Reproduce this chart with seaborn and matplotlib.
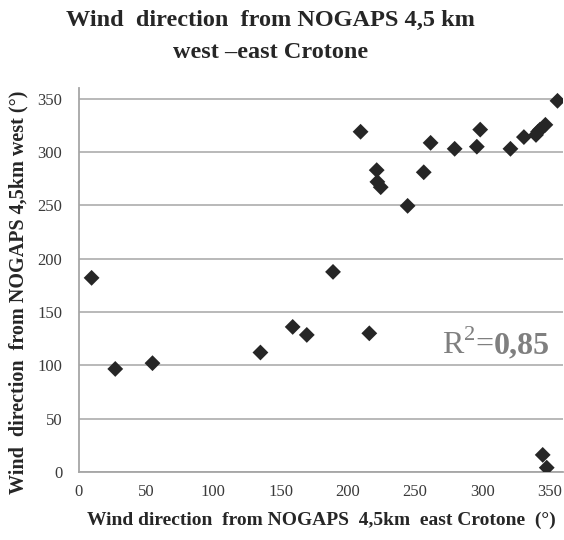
"""
Scatter of wind direction, NOGAPS 4,5 km west vs east Crotone.
"""
import matplotlib
matplotlib.use("Agg")
import matplotlib.pyplot as plt
import numpy as np
import pandas as pd
import seaborn as sns

# wind direction east Crotone (deg)
east_dir = [9.4, 27, 54.7, 135, 159, 169.5, 189, 216, 209.5, 221.5, 222, 224.5,
            244.5, 256.5, 261.6, 279.5, 296, 298.5, 321, 331, 340, 341.5, 343,
            347, 356, 345, 348]
# wind direction west (deg)
west_dir = [182, 96.6, 102, 112, 136, 128.5, 187.6, 130, 319, 283, 272, 267,
            249.5, 281, 308.6, 303, 305, 321, 303, 314, 316, 319, 321,
            325.5, 348, 16, 4]

x_ticks = [0, 50, 100, 150, 200, 250, 300, 350]
y_ticks = [0, 50, 100, 150, 200, 250, 300, 350]

df = pd.DataFrame({"east": east_dir, "west": west_dir})

sns.set_style("white")
plt.rcParams["font.family"] = ["Liberation Serif", "DejaVu Serif"]

fig = plt.figure(figsize=(5.64, 5.40), dpi=100)
ax = fig.add_axes([0.140, 0.126, 0.858, 0.711])

sns.scatterplot(data=df, x="east", y="west", marker="D", s=65,
                color="#262626", edgecolor="none", ax=ax, zorder=3)

ax.set_xlim(0, 360)
ax.set_ylim(0, 360)
ax.set_xticks(x_ticks)
ax.set_yticks(y_ticks)
ax.tick_params(axis="both", length=0, labelsize=12, labelcolor="#3a3a3a")
ax.tick_params(axis="y", pad=12)
ax.tick_params(axis="x", pad=9)
ax.yaxis.grid(True, color="#b3b3b3", linewidth=1.3)
ax.xaxis.grid(False)
for side in ["top", "right"]:
    ax.spines[side].set_visible(False)
for side in ["left", "bottom"]:
    ax.spines[side].set_color("#a6a6a6")
    ax.spines[side].set_linewidth(1.3)

ax.set_xlabel("Wind direction  from NOGAPS  4,5km  east Crotone  (°)",
              fontsize=14, fontweight="bold")
ax.set_ylabel("Wind  direction  from NOGAPS 4,5km west (°)",
              fontsize=14.5, fontweight="bold")
ax.xaxis.set_label_coords(0.5, -0.104)
ax.yaxis.set_label_coords(-0.105, 0.469)

fig.text(0.479, 0.962, "Wind  direction  from NOGAPS 4,5 km",
         ha="center", va="center", fontsize=17.5, fontweight="bold")
fig.text(0.479, 0.903, "west \u2013east Crotone",
         ha="center", va="center", fontsize=17.5, fontweight="bold")

r_txt = ax.text(270, 111, "R$^{\\mathregular{2}}$=", fontsize=23, color="#7f7f7f",
                va="baseline", ha="left")
ax.annotate("0,85", xy=(1, 0), xycoords=r_txt, fontsize=23, color="#7f7f7f",
            fontweight="bold", va="bottom", ha="left")

fig.savefig("out.png", dpi=100)
